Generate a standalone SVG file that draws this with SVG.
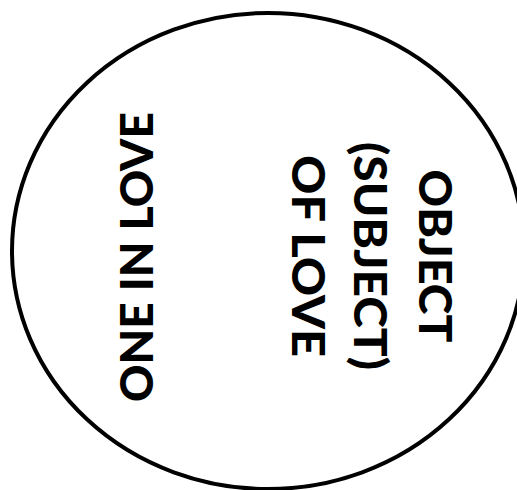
<svg xmlns="http://www.w3.org/2000/svg" width="517" height="490" viewBox="0 0 517 490">
<style>
.lbl{font-family:"Lato","Liberation Sans",sans-serif;font-weight:900;font-size:46px;fill:#000;text-anchor:middle}
</style>
<rect width="517" height="490" fill="#fff"/>
<g id="circle">
<ellipse cx="268" cy="251" rx="256" ry="238" fill="none" stroke="#000" stroke-width="4"/>
</g>
<g id="one-in-love">
<text class="lbl" transform="translate(153,257) rotate(-90)" textLength="290" lengthAdjust="spacingAndGlyphs">ONE IN LOVE</text>
</g>
<g id="object-of-love">
<text class="lbl" transform="translate(419,256) rotate(90)" textLength="173" lengthAdjust="spacingAndGlyphs">OBJECT</text>
<text class="lbl" transform="translate(354,256) rotate(90)" textLength="228" lengthAdjust="spacingAndGlyphs">(SUBJECT)</text>
<text class="lbl" transform="translate(292,256) rotate(90)" textLength="202" lengthAdjust="spacingAndGlyphs">OF LOVE</text>
</g>
<g id="connectors"></g>
</svg>
